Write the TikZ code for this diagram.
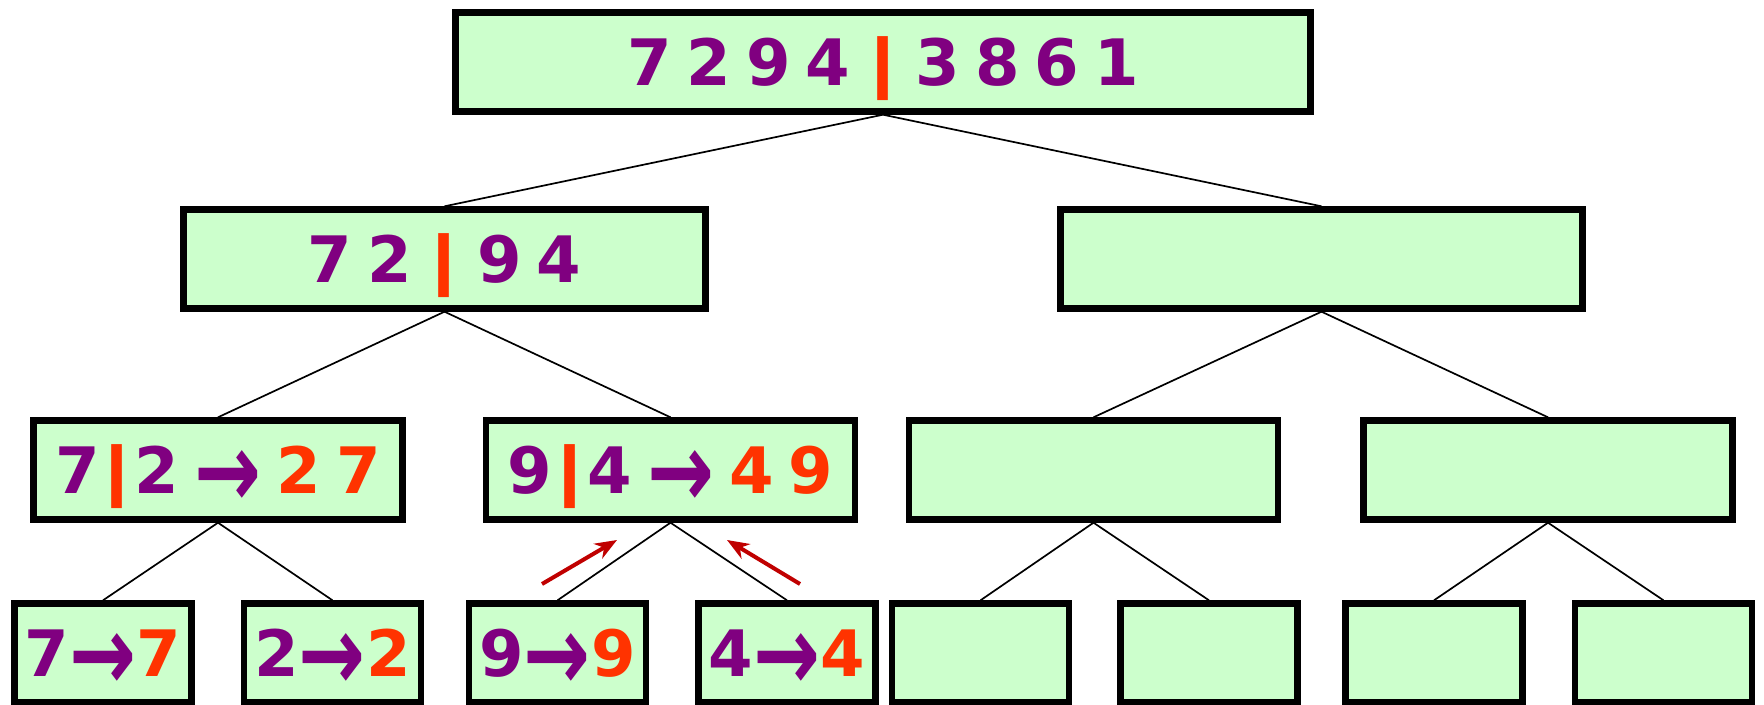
\documentclass[tikz,border=0pt]{standalone}
\usepackage{fontspec}
\setmainfont{DejaVu Sans}
\usetikzlibrary{arrows.meta}
\definecolor{boxgreen}{HTML}{CCFFCC}
\definecolor{numpurple}{HTML}{800080}
\definecolor{numorange}{HTML}{FF3300}
\definecolor{arrowred}{HTML}{C00000}
\newcommand{\cut}{\textcolor{numorange}{\scalebox{1.5}[1]{|}}}
\newcommand{\res}[1]{\textcolor{numorange}{#1}}
\newcommand{\goes}{\raisebox{-0.22em}{\scalebox{1.25}[1.65]{→}}}
\newcommand{\boxfont}{\fontsize{64}{70}\selectfont\bfseries\spaceskip=15pt\relax}
\begin{document}
\begin{tikzpicture}[x=1pt,y=-1pt,
    sortbox/.style={draw=black,line width=6.4pt,fill=boxgreen,inner sep=0pt,
      minimum height=99pt,text height=47pt,text depth=0pt,
      font=\boxfont,text=numpurple},
    rootbox/.style={sortbox,minimum width=855pt},
    halfbox/.style={sortbox,minimum width=522pt},
    quartbox/.style={sortbox,minimum width=369pt},
    leafbox/.style={sortbox,minimum width=177pt},
    split/.style={line width=1.7pt},
    merge/.style={draw=arrowred,line width=4pt,-{Stealth[length=22pt,width=17pt,inset=7pt]}}]
    \useasboundingbox (0,0) rectangle (1764,704);

    \node[rootbox] (R) at (883,62) {7 2 9 4 \cut{} 3 8 6 1};
    \node[halfbox] (A) at (444.5,259) {7 2 \cut{} 9 4};
    \node[halfbox] (B) at (1321.5,259) {};
    \node[quartbox] (AA) at (218,470) {7\cut2 \goes{} \res{2 7}};
    \node[quartbox] (AB) at (670.5,470) {9\cut4 \goes{} \res{4 9}};
    \node[quartbox] (BA) at (1093.5,470) {};
    \node[quartbox] (BB) at (1548,470) {};
    \node[leafbox] (L1) at (103,653) {7\goes\res{7}};
    \node[leafbox] (L2) at (332.5,653) {2\goes\res{2}};
    \node[leafbox] (L3) at (557.5,653) {9\goes\res{9}};
    \node[leafbox] (L4) at (787,653) {4\goes\res{4}};
    \node[leafbox] (L5) at (980.5,653) {};
    \node[leafbox] (L6) at (1209,653) {};
    \node[leafbox] (L7) at (1434,653) {};
    \node[leafbox] (L8) at (1663.5,653) {};

    \draw[split] (R.south) to (A.north); \draw[split] (R.south) to (B.north);
    \draw[split] (A.south) to (AA.north); \draw[split] (A.south) to (AB.north);
    \draw[split] (B.south) to (BA.north); \draw[split] (B.south) to (BB.north);
    \draw[split] (AA.south) to (L1.north); \draw[split] (AA.south) to (L2.north);
    \draw[split] (AB.south) to (L3.north); \draw[split] (AB.south) to (L4.north);
    \draw[split] (BA.south) to (L5.north); \draw[split] (BA.south) to (L6.north);
    \draw[split] (BB.south) to (L7.north); \draw[split] (BB.south) to (L8.north);

    % merge arrows
    \coordinate (m1) at (542,584); \coordinate (n1) at (617,540);
    \coordinate (m2) at (800,584); \coordinate (n2) at (727,540);
    \draw[merge] (m1) to (n1);
    \draw[merge] (m2) to (n2);
\end{tikzpicture}
\end{document}
